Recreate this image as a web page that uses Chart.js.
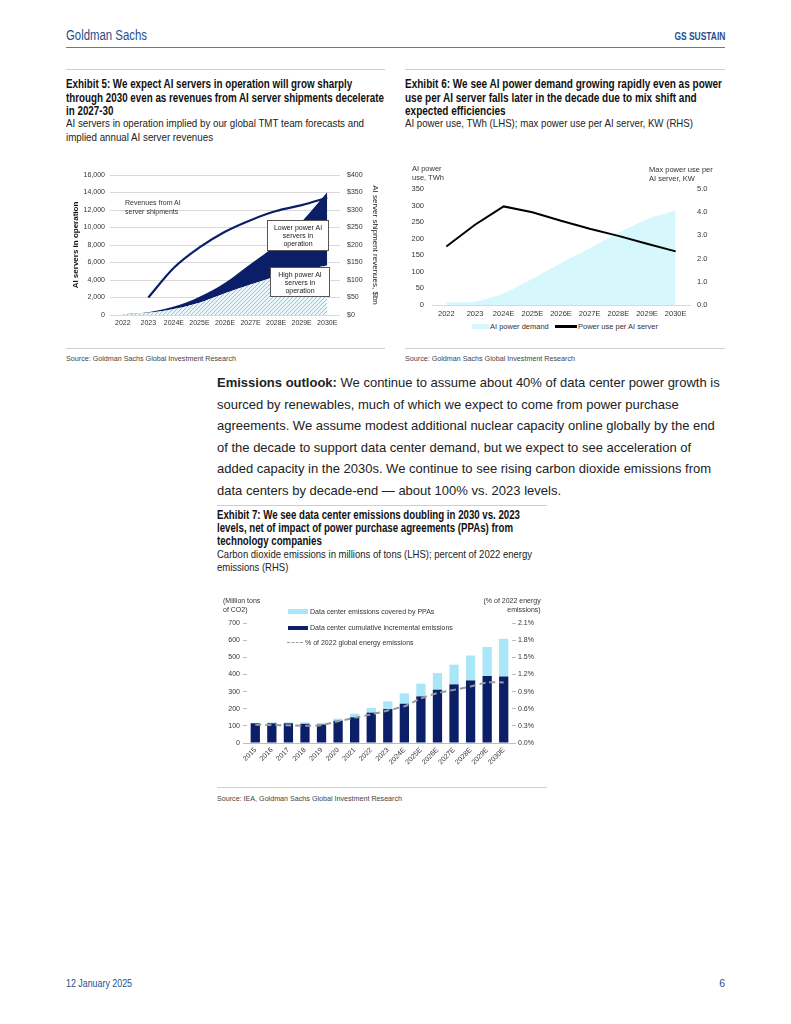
<!DOCTYPE html>
<html><head><meta charset="utf-8">
<script src="https://cdn.jsdelivr.net/npm/chart.js@4.4.1/dist/chart.umd.min.js"></script>
<style>
body{margin:0;background:#fff;}
#page{position:relative;width:791px;height:1024px;overflow:hidden;font-family:"Liberation Sans",Arial,sans-serif;color:#111;}
.a{position:absolute;white-space:nowrap;}
.rule{position:absolute;height:0;border-top:1.5px solid #cfcfcf;}
.title{position:absolute;font-weight:bold;font-size:12px;line-height:13.6px;color:#111;white-space:nowrap;}
.sub{position:absolute;font-size:11.5px;line-height:13.6px;color:#222;white-space:nowrap;}
.src{position:absolute;font-size:8px;line-height:9px;color:#444;white-space:nowrap;}
.ann{position:absolute;font-family:"Liberation Sans",Arial,sans-serif;font-size:7px;color:#333;white-space:nowrap;}
.box{position:absolute;border:1px solid #555;background:#fff;font-family:"Liberation Sans",Arial,sans-serif;font-size:7px;line-height:8px;color:#222;text-align:center;box-sizing:border-box;padding-top:3px;}
.para{position:absolute;left:217px;top:372.2px;font-family:"Liberation Sans",Arial,sans-serif;font-size:13px;line-height:21.5px;color:#222;white-space:nowrap;}
canvas{position:absolute;}
.sw{position:absolute;}
</style>
</head><body><div id="page">

<div class="a" data-w="81" style="left:66px;top:27px;font-size:14px;color:#1f4e8c;">Goldman Sachs</div>
<div class="a" data-w="51" data-o="right top" style="right:66px;top:31px;font-size:10px;font-weight:bold;color:#1f4e8c;">GS SUSTAIN</div>
<div class="a" style="left:66px;top:47px;width:659px;border-top:1.5px solid #777;"></div>

<div class="rule" style="left:66px;top:69px;width:319px;"></div>
<div class="rule" style="left:405px;top:69px;width:320px;"></div>

<div class="title" data-w="318" style="left:66px;top:78px;">Exhibit 5: We expect AI servers in operation will grow sharply<br>through 2030 even as revenues from AI server shipments decelerate<br>in 2027-30</div>
<div class="sub" data-w="298" style="left:66px;top:117px;">AI servers in operation implied by our global TMT team forecasts and<br>implied annual AI server revenues</div>

<div class="title" data-w="317" style="left:405px;top:78px;">Exhibit 6: We see AI power demand growing rapidly even as power<br>use per AI server falls later in the decade due to mix shift and<br>expected efficiencies</div>
<div class="sub" data-w="288" style="left:405px;top:117px;">AI power use, TWh (LHS); max power use per AI server, KW (RHS)</div>

<canvas id="c1" width="322" height="175" style="left:62px;top:160px;width:322px;height:175px;"></canvas>
<div class="ann" style="left:125px;top:197.5px;line-height:9px;">Revenues from AI<br>server shipments</div>
<div class="box" style="left:267px;top:220px;width:62px;height:31px;">Lower power AI<br>servers in<br>operation</div>
<div class="box" style="left:270px;top:267px;width:60px;height:30px;">High power AI<br>servers in<br>operation</div>

<canvas id="c2" width="320" height="160" style="left:405px;top:160px;width:320px;height:160px;"></canvas>
<div class="ann" style="left:412px;top:163.6px;line-height:9.4px;font-size:7.5px;">AI power<br>use, TWh</div>
<div class="ann" style="left:649px;top:166.3px;line-height:8.7px;font-size:7.5px;">Max power use per<br>AI server, KW</div>
<div class="sw" style="left:472px;top:323.8px;width:16.5px;height:5px;background:#d6f7fc;"></div>
<div class="ann" style="left:490px;top:321.5px;line-height:9px;font-size:7.5px;">AI power demand</div>
<div class="sw" style="left:555px;top:325px;width:22px;height:2.5px;background:#000;"></div>
<div class="ann" style="left:578px;top:321.5px;line-height:9px;font-size:7.5px;">Power use per AI server</div>

<div class="rule" style="left:66px;top:348px;width:319px;"></div>
<div class="rule" style="left:405px;top:348px;width:320px;"></div>
<div class="src" data-w="170" style="left:66px;top:354px;">Source: Goldman Sachs Global Investment Research</div>
<div class="src" data-w="170" style="left:405px;top:354px;">Source: Goldman Sachs Global Investment Research</div>

<div class="para"><b>Emissions outlook:</b> We continue to assume about 40% of data center power growth is<br>sourced by renewables, much of which we expect to come from power purchase<br>agreements. We assume modest additional nuclear capacity online globally by the end<br>of the decade to support data center demand, but we expect to see acceleration of<br>added capacity in the 2030s. We continue to see rising carbon dioxide emissions from<br>data centers by decade-end — about 100% vs. 2023 levels.</div>

<div class="rule" style="left:217px;top:505px;width:330px;"></div>
<div class="title" data-w="303" style="left:217px;top:509px;line-height:13px;">Exhibit 7: We see data center emissions doubling in 2030 vs. 2023<br>levels, net of impact of power purchase agreements (PPAs) from<br>technology companies</div>
<div class="sub" data-w="315" style="left:217px;top:548px;line-height:13px;">Carbon dioxide emissions in millions of tons (LHS); percent of 2022 energy<br>emissions (RHS)</div>

<canvas id="c3" width="345" height="185" style="left:205px;top:595px;width:345px;height:185px;"></canvas>
<div class="ann" style="left:223px;top:596px;line-height:9.3px;">(Million tons<br>of CO2)</div>
<div class="ann" style="right:250.3px;top:596px;line-height:9.3px;text-align:right;">(% of 2022 energy<br>emissions)</div>
<div class="sw" style="left:288px;top:609px;width:20px;height:4.5px;background:#a9e6f8;"></div>
<div class="ann" style="left:310px;top:606.8px;line-height:9px;">Data center emissions covered by PPAs</div>
<div class="sw" style="left:288px;top:625.5px;width:20px;height:4.5px;background:#0a1f68;"></div>
<div class="ann" style="left:310px;top:623.3px;line-height:9px;">Data center cumulative incremental emissions</div>
<div class="sw" style="left:287px;top:641.8px;width:16px;height:0;border-top:1.8px dashed #9a9a9a;"></div>
<div class="ann" style="left:305px;top:638.4px;line-height:9px;">% of 2022 global energy emissions</div>

<div class="rule" style="left:217px;top:787px;width:330px;"></div>
<div class="src" data-w="185" style="left:217px;top:793.5px;">Source: IEA, Goldman Sachs Global Investment Research</div>

<div class="a" data-w="66" style="left:66px;top:977px;font-size:10.5px;color:#1f4e8c;">12 January 2025</div>
<div class="a" style="right:66px;top:977px;font-size:10.5px;color:#1f4e8c;">6</div>

</div>
<script>
// ---------- Exhibit 5 data ----------
const yearsA = ['2022','2023','2024E','2025E','2026E','2027E','2028E','2029E','2030E'];
const highPowerServers = [50,250,690,1410,2480,3500,4380,5100,5650];
const lowerPowerServers = [50,60,270,690,1220,2330,3620,5570,8370];
const serverRevenues = [null,50,135,193,238,271,297,314,335];
const serverTicks = [0,2000,4000,6000,8000,10000,12000,14000,16000];

// ---------- Exhibit 6 data ----------
const yearsB = ['2022','2023','2024E','2025E','2026E','2027E','2028E','2029E','2030E'];
const aiPowerDemand = [8,10,35,79,126,171,217,259,285];
const powerPerServer = [2.52,3.46,4.25,4.0,3.63,3.29,2.98,2.64,2.31];

// ---------- Exhibit 7 data ----------
const yearsC = ['2015','2016','2017','2018','2019','2020','2021','2022','2023','2024E','2025E','2026E','2027E','2028E','2029E','2030E'];
const incrementalEmissions = [115,115,115,112,108,130,150,177,198,229,272,311,342,365,391,388];
const ppaCoveredEmissions = [3,5,5,8,9,12,21,27,45,61,74,97,115,145,169,220];
const pctEnergyEmissions = [0.32,0.315,0.31,0.30,0.31,0.38,0.44,0.50,0.57,0.64,0.78,0.875,0.93,0.99,1.06,1.06];
const pctTicks = [0,0.3,0.6,0.9,1.2,1.5,1.8,2.1];

// condensed text: squeeze blocks horizontally to the measured widths
document.querySelectorAll('[data-w]').forEach(el=>{
  const w = el.getBoundingClientRect().width;
  const t = +el.dataset.w;
  el.style.transformOrigin = el.dataset.o || 'left top';
  el.style.transform = 'scaleX(' + (t/w) + ')';
});

const NAVY = '#0a1f68';
const FAM = '"Liberation Sans", Arial, sans-serif';
const tickFont = {family:FAM, size:7};
Chart.defaults.color = '#333';
Chart.defaults.animation = false;

function hatch(){
  const c=document.createElement('canvas'); c.width=4; c.height=4;
  const x=c.getContext('2d');
  x.fillStyle='#eaf8fd'; x.fillRect(0,0,4,4);
  x.strokeStyle='#74cdef'; x.lineWidth=1;
  x.beginPath(); x.moveTo(0,4); x.lineTo(4,0); x.stroke();
  x.beginPath(); x.moveTo(-1,1); x.lineTo(1,-1); x.stroke();
  x.beginPath(); x.moveTo(3,5); x.lineTo(5,3); x.stroke();
  return x.createPattern(c,'repeat');
}

const common = {responsive:false, animation:false, plugins:{legend:{display:false}, tooltip:{enabled:false}}, elements:{point:{radius:0}}};

// Chart 1
new Chart(document.getElementById('c1'), {
  type:'line',
  data:{labels:yearsA, datasets:[
    {label:'High power AI servers in operation', data:highPowerServers, yAxisID:'y', fill:'origin', backgroundColor:hatch(), borderWidth:0, tension:0.35, order:2},
    {label:'Lower power AI servers in operation', data:lowerPowerServers, yAxisID:'y', fill:'-1', backgroundColor:NAVY, borderWidth:0, tension:0.35, order:2},
    {label:'Revenues from AI server shipments', data:serverRevenues, yAxisID:'y1', fill:false, borderColor:NAVY, borderWidth:2.2, cubicInterpolationMode:'monotone', order:0}
  ]},
  options:{...common,
    layout:{padding:{top:15,left:0,right:0,bottom:0}},
    scales:{
      x:{offset:true, grid:{display:false, drawTicks:false}, border:{display:false}, ticks:{font:tickFont, padding:4, maxRotation:0, autoSkip:false, color:'#333'}, afterFit(s){s.height=20;}},
      y:{stacked:true, min:0, max:16000, afterBuildTicks(s){s.ticks=serverTicks.map(v=>({value:v}));},
         grid:{color:'#d9d9d9', drawTicks:false}, border:{display:false},
         ticks:{font:tickFont, padding:5, color:'#333', callback:v=>v.toLocaleString('en-US')},
         title:{display:true, text:'AI servers in operation', font:{family:FAM, size:8, weight:'bold'}, color:'#111', padding:{top:9,bottom:0}},
         afterFit(s){s.width=48;}},
      y1:{position:'right', min:0, max:400, ticks:{stepSize:50, font:tickFont, padding:7, color:'#333', callback:v=>'$'+v},
         grid:{display:false, drawTicks:false}, border:{display:false},
         title:{display:true, text:'AI server shipment revenues, $bn', font:{family:FAM, size:8}, color:'#222', padding:{top:4,bottom:0}},
         afterFit(s){s.width=44;}}
    }
  }
});

// Chart 2
new Chart(document.getElementById('c2'), {
  type:'line',
  data:{labels:yearsB, datasets:[
    {label:'AI power demand', data:aiPowerDemand, yAxisID:'y', fill:'origin', backgroundColor:'#d6f7fc', borderWidth:0, tension:0.2, order:2},
    {label:'Power use per AI server', data:powerPerServer, yAxisID:'y1', fill:false, borderColor:'#000', borderWidth:2, tension:0, order:0}
  ]},
  options:{...common,
    layout:{padding:{top:29,left:0,right:0,bottom:0}},
    scales:{
      x:{offset:true, grid:{display:false, drawTicks:false}, border:{display:true, color:'#d9d9d9'}, ticks:{font:{family:FAM,size:7.5}, padding:4, maxRotation:0, autoSkip:false, color:'#333'}, afterFit(s){s.height=15;}},
      y:{min:0, max:350, ticks:{stepSize:50, font:{family:FAM,size:7.5}, padding:8, color:'#333'}, grid:{display:false, drawTicks:false}, border:{display:false}, afterFit(s){s.width=27;}},
      y1:{position:'right', min:0, max:5, ticks:{stepSize:1, font:{family:FAM,size:7.5}, padding:7, color:'#333', callback:v=>v.toFixed(1)}, grid:{display:false, drawTicks:false}, border:{display:false}, afterFit(s){s.width=35;}}
    }
  }
});

// Chart 3
new Chart(document.getElementById('c3'), {
  type:'bar',
  data:{labels:yearsC, datasets:[
    {type:'bar', label:'Data center cumulative incremental emissions', data:incrementalEmissions, backgroundColor:NAVY, yAxisID:'y', stack:'s', order:1, categoryPercentage:0.56, barPercentage:1},
    {type:'bar', label:'Data center emissions covered by PPAs', data:ppaCoveredEmissions, backgroundColor:'#a9e6f8', yAxisID:'y', stack:'s', order:1, categoryPercentage:0.56, barPercentage:1},
    {type:'line', label:'% of 2022 global energy emissions', data:pctEnergyEmissions, yAxisID:'y1', borderColor:'#9a9a9a', borderWidth:2, borderDash:[6,4], fill:false, tension:0.2, order:0, pointRadius:0}
  ]},
  options:{...common,
    layout:{padding:{top:28,left:0,right:0,bottom:0}},
    scales:{
      x:{stacked:true, grid:{display:false, drawTicks:false}, border:{display:true, color:'#bdbdbd'}, ticks:{font:tickFont, padding:3, minRotation:45, maxRotation:45, autoSkip:false, color:'#333'}, afterFit(s){s.height=37;}},
      y:{stacked:true, min:0, max:700, ticks:{stepSize:100, font:tickFont, padding:3, color:'#333'}, grid:{drawOnChartArea:false, tickLength:4, color:'#bdbdbd'}, border:{display:false}, afterFit(s){s.width=42;}},
      y1:{position:'right', min:0, max:2.1, afterBuildTicks(s){s.ticks=pctTicks.map(v=>({value:v}));}, ticks:{font:tickFont, padding:2, color:'#333', callback:v=>v.toFixed(1)+'%'}, grid:{drawOnChartArea:false, tickLength:4, color:'#bdbdbd'}, border:{display:false}, afterFit(s){s.width=38;}}
    }
  }
});
</script>
</body></html>
